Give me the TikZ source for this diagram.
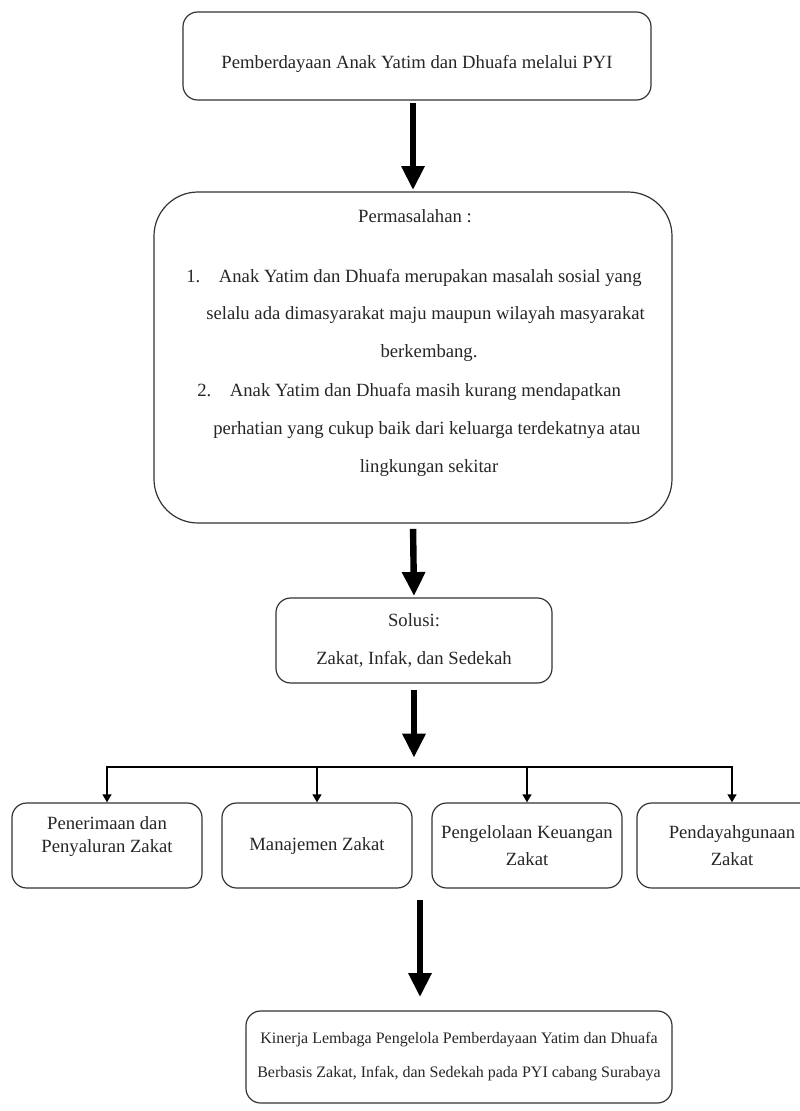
\documentclass[tikz,border=0pt]{standalone}
\usepackage{fontspec}
\setmainfont{Liberation Serif}
\usetikzlibrary{arrows.meta,positioning}

\begin{document}
\begin{tikzpicture}[x=0.75pt, y=-0.75pt,
    font=\fontsize{14}{17}\selectfont, text=black!85,
    box/.style={draw=black!80, line width=0.9pt, rounded corners=11pt, align=center, inner sep=0pt},
    rowbox/.style={box, minimum width=142.5pt, minimum height=63.75pt},
    txt/.style={inner sep=0pt, anchor=west},
    bigarrow/.style={black, line width=4.8pt, -{Triangle[width=16.5pt,length=18pt]}},
    smallarrow/.style={black, line width=2.2pt, -{Triangle[width=6.5pt,length=6pt]}},
    barline/.style={black, line width=2.2pt, line cap=rect}]
    \useasboundingbox (0,0) rectangle (800,1111);

    % top
    \node [box, minimum width=351pt, minimum height=66pt] (start) at (417,56) {\raisebox{-9pt}[0pt][0pt]{Pemberdayaan Anak Yatim dan Dhuafa melalui PYI}};

    % permasalahan
    \node [box, rounded corners=33pt, minimum width=388.5pt, minimum height=248.25pt] (masalah) at (413,357.5) {};
    \node [inner sep=0pt] (judul) at (415,216) {Permasalahan :};
    \node [txt] (m1a) at (186,278) {1.\quad Anak Yatim dan Dhuafa merupakan masalah sosial yang};
    \node [txt] (m1b) at (206,315) {selalu ada dimasyarakat maju maupun wilayah masyarakat};
    \node [inner sep=0pt] (m1c) at (429,353) {berkembang.};
    \node [txt] (m2a) at (197,392) {2.\quad Anak Yatim dan Dhuafa masih kurang mendapatkan};
    \node [txt] (m2b) at (213,430) {perhatian yang cukup baik dari keluarga terdekatnya atau};
    \node [inner sep=0pt] (m2c) at (429,468) {lingkungan sekitar};

    % solusi
    \node [box, minimum width=207pt, minimum height=63.75pt] (solusi) at (414,640.5) {Solusi:\\[11pt] Zakat, Infak, dan Sedekah};

    % four boxes
    \node [rowbox] (pA) at (107,845.5) {\raisebox{-5.5pt}[0pt][0pt]{\shortstack{Penerimaan dan\\[5pt] Penyaluran Zakat}}};
    \node [rowbox] (pB) at (317,845.5) {Manajemen Zakat};
    \node [rowbox] (pC) at (527,845.5) {Pengelolaan Keuangan\\[3pt] Zakat};
    \node [rowbox] (pD) at (732,845.5) {Pendayahgunaan\\[3pt] Zakat};

    % result
    \node [box, minimum width=319.5pt, minimum height=69pt, font=\fontsize{12}{14.4}\selectfont] (kinerja) at (459,1057) {\raisebox{-15pt}[0pt][0pt]{\shortstack{Kinerja Lembaga Pengelola Pemberdayaan Yatim dan Dhuafa\\[11pt] Berbasis Zakat, Infak, dan Sedekah pada PYI cabang Surabaya}}};

    % arrows
    \draw [bigarrow, shorten <=2pt, shorten >=1pt] (start.south -| masalah.north) -- (masalah.north);
    \draw [bigarrow, shorten <=4pt, shorten >=1pt] (masalah.south) -- (solusi.north);

    \coordinate (fork) at (solusi.south |- 0,767);
    \draw [bigarrow, shorten <=5pt, shorten >=7pt] (solusi.south) -- (fork);
    \draw [barline] (pA.north |- fork) -- (pD.north |- fork);
    \foreach \b in {pA,pB,pC,pD}
        \draw [smallarrow] (\b.north |- fork) -- (\b.north);

    \coordinate (tail) at (420,900);
    \draw [bigarrow, shorten >=10pt] (tail) -- (tail |- kinerja.north);
\end{tikzpicture}
\end{document}
